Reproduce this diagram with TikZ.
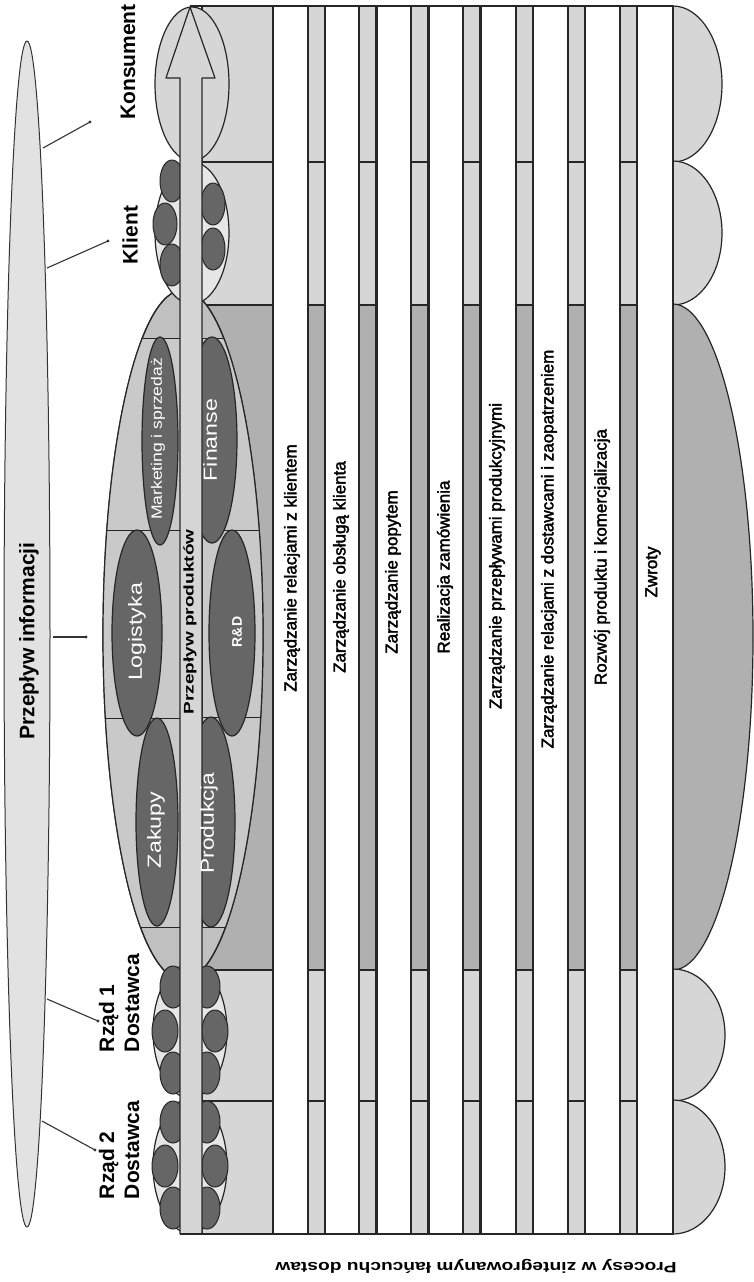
\documentclass[tikz,border=0pt]{standalone}
\usepackage{fontspec}
\setmainfont{Liberation Sans}
\newfontfamily\procfont[FakeBold=2.2]{Liberation Sans}
\usepackage{graphicx}
\definecolor{lg}{HTML}{D6D6D6}
\definecolor{mg}{HTML}{B0B0B0}
\definecolor{bigell}{HTML}{C0C0C0}
\definecolor{rectf}{HTML}{C9C9C9}
\definecolor{fg}{HTML}{666666}
\definecolor{infog}{HTML}{E2E2E2}
\definecolor{pale}{HTML}{E6E6E6}
\tikzset{
  outl/.style={draw=black!85, line width=1.2pt},
  thinl/.style={draw=black!85, line width=1pt},
  proclabel/.style={rotate=90, font=\procfont\fontsize{17}{20}\selectfont, inner sep=0pt},
  stagelabel/.style={rotate=90, font=\bfseries\fontsize{21}{25}\selectfont, inner sep=0pt, align=left},
  funclabel/.style={rotate=90, text=white, inner sep=0pt},
  darkdot/.style={fill=fg, draw=black!85, line width=1pt},
  leader/.style={draw=black!80, line width=1.1pt},
}
\begin{document}
\begin{tikzpicture}[x=1pt,y=-1pt,line join=round]
\useasboundingbox (0,0) rectangle (753,1282);

% information flow lens
\draw[fill=infog, draw=black!80, line width=1pt] (27,634) ellipse[x radius=23, y radius=593];

% band right of product stem
\foreach \a/\b/\c in {6/162/lg,162/305/lg,305/970/mg,970/1101/lg,1101/1234/lg}{
  \filldraw[fill=\c, outl] (202,\a) rectangle (273,\b);
}
% white process columns
\foreach \l/\r in {273/308,325/359,377/411,429/463,481/516,533/568,585/620,637/673}{
  \filldraw[fill=white, outl] (\l,6) rectangle (\r,1234);
}
% narrow grey columns
\foreach \g in {308,359,411,463,516,568,620}{
  \foreach \a/\b/\c in {6/162/lg,162/305/lg,305/970/mg,970/1101/lg,1101/1234/lg}{
    \filldraw[fill=\c, outl] (\g,\a) rectangle (\g+17,\b);
  }
}
% right bulges
\begin{scope}
  \clip (673,0) rectangle (760,1282);
  \draw[outl, fill=lg] (673,84) ellipse[x radius=49, y radius=78];
  \draw[outl, fill=lg] (673,233) ellipse[x radius=49, y radius=72];
  \draw[outl, fill=mg] (673,637) ellipse[x radius=80, y radius=333];
  \draw[outl, fill=lg] (673,1035) ellipse[x radius=52, y radius=66];
  \draw[outl, fill=lg] (673,1167) ellipse[x radius=52, y radius=67];
\end{scope}
\draw[outl] (673,6) -- (673,1234);

% focal company ellipse
\draw[outl, fill=bigell] (183,635) ellipse[x radius=80, y radius=345];
\begin{scope}
  \clip (183,635) ellipse[x radius=80, y radius=345];
  \foreach \x/\X/\t/\b in {80/180/338/545, 80/180/530/737, 80/180/718/927, 202/290/338/543, 202/290/530/735, 202/290/717/927}{
    \filldraw[fill=rectf, thinl] (\x,\t) rectangle (\X,\b);
  }
\end{scope}
\draw[outl] (183,635) ellipse[x radius=80, y radius=345];
\draw[outl, fill=fg] (160,441) ellipse[x radius=18, y radius=104];
\draw[outl, fill=fg] (137,633) ellipse[x radius=25, y radius=103];
\draw[outl, fill=fg] (157,822) ellipse[x radius=21, y radius=104];
\draw[outl, fill=fg] (212,440) ellipse[x radius=25, y radius=103];
\draw[outl, fill=fg] (232,633) ellipse[x radius=23, y radius=103];
\draw[outl, fill=fg] (211,822) ellipse[x radius=24, y radius=105];

% konsument / klient / suppliers
\draw[outl, fill=lg] (192,84) ellipse[x radius=37, y radius=77];
\draw[outl, fill=pale] (192,233) ellipse[x radius=37, y radius=71];
\foreach \x/\y in {172/181,165/224,172/265,213/204,213/249}{
  \draw[darkdot] (\x,\y) ellipse[x radius=12, y radius=21];
}
\foreach \cy in {1031,1166}{
  \draw[outl, fill=pale] (190,\cy) ellipse[x radius=37, y radius=67];
  \foreach \x/\d in {173/-44,165/0,173/42,207/-44,215/0,207/42}{
    \draw[darkdot] (\x,\cy+\d) ellipse[x radius=13, y radius=21];
  }
}

% product flow arrow
\draw[outl, fill=lg] (190,7) -- (215,78) -- (202,78) -- (202,1234) -- (180,1234) -- (180,78) -- (166,78) -- cycle;

% frame lines
\draw[outl] (190,6) -- (673,6);
\draw[outl] (180,1234) -- (673,1234);

% labels of stages
\node[stagelabel] (konsument) at (128,62) {Konsument};
\node[stagelabel] (klient) at (130,235) {Klient};
\node[stagelabel] (rzad1) at (119,1003) {Rząd 1\\Dostawca};
\node[stagelabel] (rzad2) at (119,1150) {Rząd 2\\Dostawca};
\node[rotate=90, font=\bfseries\fontsize{21}{25}\selectfont, inner sep=0pt] (info) at (29,641) {Przepływ informacji};

\coordinate (k1) at (43,148); \coordinate (k2) at (90,122);
\coordinate (c1) at (47,268); \coordinate (c2) at (108,241);
\coordinate (i1) at (53,637); \coordinate (i2) at (86,637);
\coordinate (r1) at (47,999); \coordinate (r2) at (98,1021);
\coordinate (s1) at (42,1121); \coordinate (s2) at (95,1150);
\foreach \p/\q in {k1/k2,c1/c2,i1/i2,r1/r2,s1/s2}{
  \draw[leader] (\p) -- (\q);
  \fill[black!80] (\q) circle[radius=1.6];
}

% function labels
\node[funclabel, font=\fontsize{15}{18}\selectfont] (mark) at (158,439) {\scalebox{1.17}[1]{Marketing i sprzedaż}};
\node[funclabel, font=\fontsize{19}{22}\selectfont] (log) at (137,632) {\scalebox{1.22}[1]{Logistyka}};
\node[funclabel, font=\fontsize{19}{22}\selectfont] (zak) at (156,830) {\scalebox{1.22}[1]{Zakupy}};
\node[funclabel, font=\fontsize{19}{22}\selectfont] (fin) at (210,440) {\scalebox{1.22}[1]{Finanse}};
\node[funclabel, font=\bfseries\fontsize{14}{16}\selectfont] (rd) at (237,632) {R\&D};
\node[funclabel, font=\fontsize{19}{22}\selectfont] (prod) at (209,823) {\scalebox{1.2}[1]{Produkcja}};
\node[rotate=90, font=\bfseries\fontsize{14}{16}\selectfont, inner sep=0pt] (pp) at (190,622) {\scalebox{1.36}[1]{Przepływ produktów}};

% process labels
\node[proclabel] (p1) at (292,568) {Zarządzanie relacjami z klientem};
\node[proclabel] (p2) at (341,567) {Zarządzanie obsługą klienta};
\node[proclabel] (p3) at (393,572) {Zarządzanie popytem};
\node[proclabel] (p4) at (445,567) {Realizacja zamówienia};
\node[proclabel] (p5) at (497,556) {Zarządzanie przepływami produkcyjnymi};
\node[proclabel] (p6) at (549,549) {Zarządzanie relacjami z dostawcami i zaopatrzeniem};
\node[proclabel] (p7) at (602,557) {Rozwój produktu i komercjalizacja};
\node[proclabel] (p8) at (653,572) {Zwroty};

\node[rotate=180, font=\bfseries\fontsize{15}{18}\selectfont, inner sep=0pt] (caption) at (476,1266) {\scalebox{1.28}[1]{Procesy w zintegrowanym łańcuchu dostaw}};
\end{tikzpicture}
\end{document}
